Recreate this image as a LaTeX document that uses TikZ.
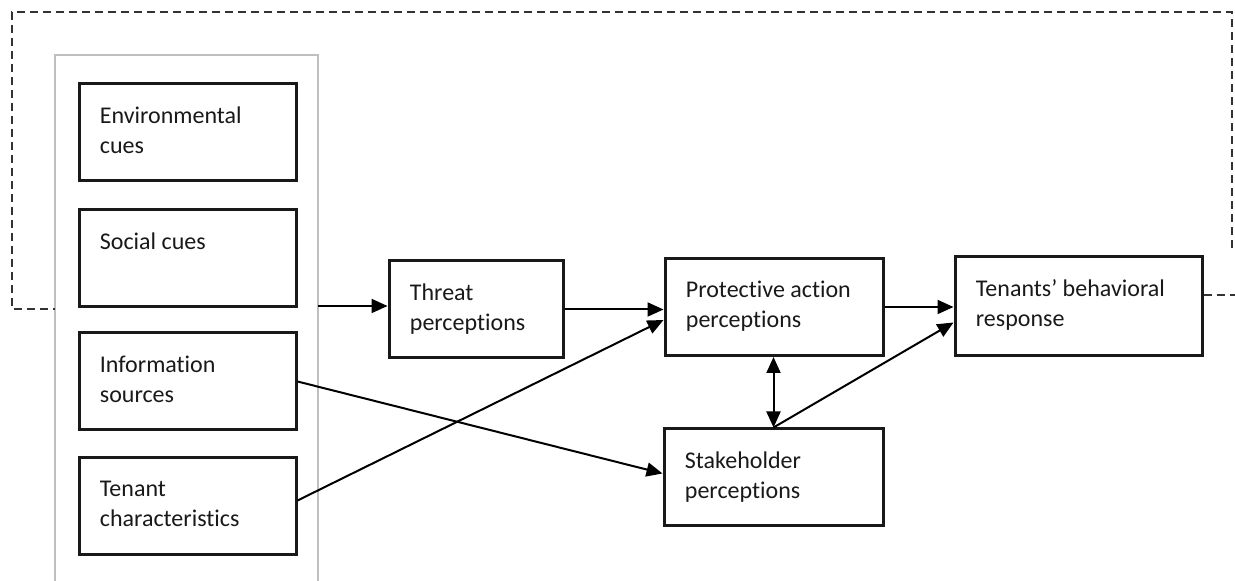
\documentclass[tikz,border=0pt]{standalone}
\usepackage{fontspec}
\setmainfont{Carlito}[Ligatures=NoCommon]
\usetikzlibrary{arrows.meta,calc}

\tikzset{
  stage/.style={draw=black!90, line width=1.5pt, minimum width=108.5pt, minimum height=48.5pt, inner sep=0pt},
  lbl/.style={anchor=north west, align=left, inner sep=0pt, xshift=11pt, yshift=-12pt, font=\fontsize{12}{15}\selectfont, text=black!90},
  arr/.style={-{Triangle[length=8pt,width=7pt]}, line width=1pt},
  arrboth/.style={{Triangle[length=8pt,width=7pt]}-{Triangle[length=8pt,width=7pt]}, line width=1pt},
  loop/.style={dash pattern=on 4pt off 2.5pt, line width=1pt, black!80}
}

\begin{document}
\begin{tikzpicture}[x=0.5pt,y=-0.5pt]
\useasboundingbox (0,0) rectangle (1235,581);

%% group of cues
\draw[black!25, line width=0.8pt] (55,581) -- (55,55) -- (318,55) -- (318,581);
\coordinate (grpR) at (318,306);

\node[stage, label={[lbl]north west:Environmental\\cues}] (env) at (187.5,132.5) {};
\node[stage, label={[lbl]north west:Social cues}] (social) at (187.5,258) {};
\node[stage, label={[lbl]north west:Information\\sources}] (info) at (187.5,381.5) {};
\node[stage, label={[lbl]north west:Tenant\\characteristics}] (tenant) at (187.5,506.5) {};

%% perceptions
\node[stage, minimum width=87pt, label={[lbl]north west:Threat\\perceptions}] (threat) at (476,309.5) {};
\node[stage, minimum width=109pt, label={[lbl]north west:Protective action\\perceptions}] (prot) at (774,307) {};
\node[stage, minimum width=109.5pt, label={[lbl]north west:Stakeholder\\perceptions}] (stake) at (773.5,477.5) {};
\node[stage, minimum width=123.5pt, minimum height=49.5pt, label={[lbl]north west:Tenants’ behavioral\\response}] (resp) at (1078.5,306.5) {};

%% arrows
\draw[arr] (grpR) -- (grpR -| threat.west);
\draw[arr] (threat.east) -- (threat.east -| prot.west);
\draw[arr] ($(tenant.east)+(0,-6)$) -- ($(prot.west)+(0,13)$);
\draw[arr] (info.east) -- ($(stake.west)+(0,-4)$);
\draw[arr] (prot.east) -- (prot.east -| resp.west);
\draw[arr] (stake.north) -- ($(resp.west)+(0,16)$);
\draw[arrboth] (stake.north |- prot.south) -- (stake.north);

%% feedback loop
\coordinate (fbOut) at (1235,295);
\coordinate (fbUp) at (1232,248);
\coordinate (fbIn) at (55,309);
\draw[loop] (resp.east |- fbOut) -- (fbOut);
\draw[loop] (fbUp) -- (1232,12) -- (12,12) -- (12,309) -- (fbIn);

\end{tikzpicture}
\end{document}
